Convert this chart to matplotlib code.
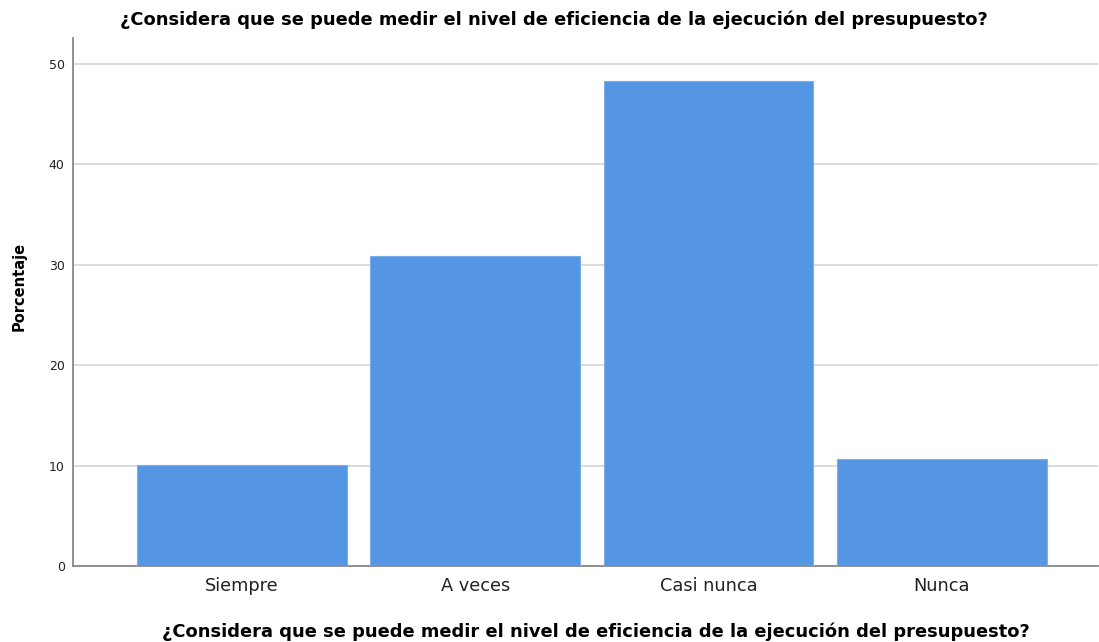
import matplotlib.pyplot as plt

categories = ['Siempre', 'A veces', 'Casi nunca', 'Nunca']
percentages = [10.1, 30.9, 48.3, 10.7]
yticks = [0, 10, 20, 30, 40, 50]
question = '¿Considera que se puede medir el nivel de eficiencia de la ejecución del presupuesto?'

plt.rcParams['font.family'] = ['DejaVu Sans']

fig = plt.figure(figsize=(10.99, 6.42), dpi=100)
ax = fig.add_axes([0.0664, 0.1184, 0.9327, 0.8224])

x = list(range(len(categories)))
ax.bar(x, percentages, width=0.9, color='#5596e4', edgecolor='#7aaeea', linewidth=0.8, zorder=3)

ax.set_xlim(-0.725, 3.67)
ax.set_ylim(0, 52.6)
ax.set_xticks(x)
ax.set_xticklabels(categories, fontsize=12.8, color='#222222')
ax.set_yticks(yticks)
ax.set_yticklabels([str(t) for t in yticks], fontsize=9, color='#222222')
ax.tick_params(length=0, pad=6)
ax.tick_params(axis='x', pad=8)

ax.grid(axis='y', color='#d9d9d9', linewidth=1.3, zorder=0)
ax.set_axisbelow(True)
for s in ['top', 'right']:
    ax.spines[s].set_visible(False)
for s in ['left', 'bottom']:
    ax.spines[s].set_color('#888888')
    ax.spines[s].set_linewidth(1.3)

# titles placed by figure coords to match the original layout
fig.text(554 / 1099, 1 - 20 / 642, question, fontsize=12.9, fontweight='bold',
         ha='center', va='center')
fig.text(596 / 1099, 1 - 632 / 642, question, fontsize=12.9, fontweight='bold',
         ha='center', va='center')
ax.set_ylabel('Porcentaje', fontsize=10.5, fontweight='bold')
ax.yaxis.set_label_coords(-0.045, 0.53)

fig.savefig('out.png', dpi=100)
